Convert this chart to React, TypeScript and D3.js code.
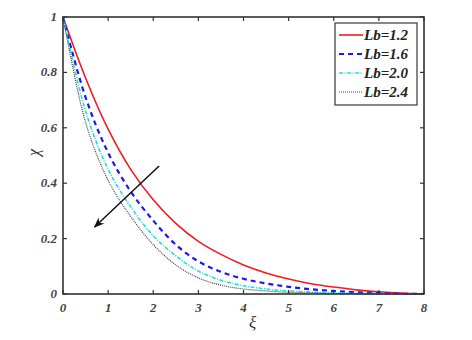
import { useEffect, useRef } from 'react'
import * as d3 from 'd3'

// profiles, xi on [0, 8]
const XI = [0, 0.5, 1, 1.5, 2, 2.5, 3, 3.5, 4, 4.5, 5, 5.5, 6, 6.5, 7, 7.5, 8]
const LB12 = [1, 0.78, 0.595, 0.45, 0.34, 0.255, 0.19, 0.143, 0.105, 0.076, 0.054, 0.037, 0.025, 0.015, 0.008, 0.003, 0]
const LB16 = [1, 0.71, 0.51, 0.37, 0.265, 0.178, 0.118, 0.08, 0.055, 0.038, 0.026, 0.017, 0.011, 0.006, 0.003, 0.001, 0]
const LB20 = [1, 0.66, 0.45, 0.315, 0.21, 0.138, 0.083, 0.05, 0.03, 0.018, 0.011, 0.007, 0.004, 0.002, 0.001, 0, 0]
const LB24 = [1, 0.62, 0.41, 0.28, 0.178, 0.105, 0.058, 0.032, 0.018, 0.011, 0.006, 0.004, 0.002, 0.001, 0, 0, 0]
const X_TICKS = [0, 1, 2, 3, 4, 5, 6, 7, 8]
const Y_TICKS = [0, 0.2, 0.4, 0.6, 0.8, 1]
const Y_TICK_LABELS = ['0', '0.2', '0.4', '0.6', '0.8', '1']
const LABELS = ['Lb=1.2', 'Lb=1.6', 'Lb=2.0', 'Lb=2.4']

const SERIES = [
  { label: LABELS[0], values: LB12, color: '#ee1c25', width: 1.6, dash: null },
  { label: LABELS[1], values: LB16, color: '#1a1aee', width: 2.2, dash: '5,4' },
  { label: LABELS[2], values: LB20, color: '#22dede', width: 1.6, dash: '4,1.5,1,1.5' },
  { label: LABELS[3], values: LB24, color: '#444', width: 1.2, dash: '1,1' },
]

export default function App() {
  const ref = useRef<SVGSVGElement | null>(null)

  useEffect(() => {
    const W = 472, H = 340
    const M = { top: 17, right: 48, bottom: 46, left: 63 }
    const iw = W - M.left - M.right
    const ih = H - M.top - M.bottom
    const svg = d3.select(ref.current)
    svg.selectAll('*').remove()

    const x = d3.scaleLinear().domain([0, 8]).range([0, iw])
    const y = d3.scaleLinear().domain([0, 1]).range([ih, 0])
    const g = svg.append('g').attr('transform', `translate(${M.left},${M.top})`)
    const axisColor = '#333'
    const font = '"Liberation Serif", "Times New Roman", serif'

    // curves
    const line = d3.line<number>()
      .x((d, i) => x(XI[i]))
      .y(d => y(d))
      .curve(d3.curveCatmullRom.alpha(0.5))
    SERIES.forEach(s => {
      const p = g.append('path').datum(s.values)
        .attr('fill', 'none')
        .attr('stroke', s.color)
        .attr('stroke-width', s.width)
        .attr('d', line)
      if (s.dash) p.attr('stroke-dasharray', s.dash)
    })

    // frame + ticks (inward, all four sides)
    g.append('rect').attr('width', iw).attr('height', ih)
      .attr('fill', 'none').attr('stroke', axisColor).attr('stroke-width', 1.6)
    X_TICKS.forEach(t => {
      g.append('line').attr('x1', x(t)).attr('x2', x(t)).attr('y1', ih).attr('y2', ih - 4)
        .attr('stroke', axisColor).attr('stroke-width', 1.2)
      g.append('line').attr('x1', x(t)).attr('x2', x(t)).attr('y1', 0).attr('y2', 4)
        .attr('stroke', axisColor).attr('stroke-width', 1.2)
      g.append('text').attr('x', x(t)).attr('y', ih + 18)
        .attr('text-anchor', 'middle').attr('font-family', font).attr('font-style', 'italic')
        .attr('font-weight', 'bold').attr('font-size', 13).attr('fill', '#444')
        .text(t)
    })
    Y_TICKS.forEach((t, i) => {
      g.append('line').attr('x1', 0).attr('x2', 4).attr('y1', y(t)).attr('y2', y(t))
        .attr('stroke', axisColor).attr('stroke-width', 1.2)
      g.append('line').attr('x1', iw).attr('x2', iw - 4).attr('y1', y(t)).attr('y2', y(t))
        .attr('stroke', axisColor).attr('stroke-width', 1.2)
      g.append('text').attr('x', -6).attr('y', y(t) + 4)
        .attr('text-anchor', 'end').attr('font-family', font).attr('font-style', 'italic')
        .attr('font-weight', 'bold').attr('font-size', 13).attr('fill', '#444')
        .text(Y_TICK_LABELS[i])
    })

    // axis titles
    g.append('text').attr('x', x(4.2)).attr('y', ih + 34)
      .attr('text-anchor', 'middle').attr('font-family', font).attr('font-style', 'italic')
      .attr('font-size', 17).attr('fill', '#333').text('ξ')
    g.append('text')
      .attr('transform', `translate(${-24},${y(0.5) - 3}) rotate(-90)`)
      .attr('text-anchor', 'middle').attr('font-family', font).attr('font-style', 'italic')
      .attr('font-size', 16).attr('fill', '#333').text('χ')

    // arrow (direction of increasing Lb)
    const defs = svg.append('defs')
    defs.append('marker').attr('id', 'ah').attr('viewBox', '0 0 10 10')
      .attr('refX', 9).attr('refY', 5).attr('markerWidth', 7).attr('markerHeight', 7)
      .attr('orient', 'auto')
      .append('path').attr('d', 'M0,1 L10,5 L0,9 L3,5 Z').attr('fill', '#111')
    g.append('line')
      .attr('x1', x(2.13)).attr('y1', y(0.462)).attr('x2', x(0.7)).attr('y2', y(0.242))
      .attr('stroke', '#111').attr('stroke-width', 1.5).attr('marker-end', 'url(#ah)')

    // legend
    const lg = svg.append('g').attr('transform', 'translate(335,23)')
    lg.append('rect').attr('width', 82).attr('height', 82)
      .attr('fill', '#fff').attr('stroke', '#555').attr('stroke-width', 1.4)
    SERIES.forEach((s, i) => {
      const ly = 12 + i * 19
      const l = lg.append('line').attr('x1', 4).attr('x2', 28).attr('y1', ly).attr('y2', ly)
        .attr('stroke', s.color).attr('stroke-width', s.width)
      if (s.dash) l.attr('stroke-dasharray', s.dash)
      lg.append('text').attr('x', 29).attr('y', ly + 5)
        .attr('font-family', font).attr('font-style', 'italic').attr('font-weight', 'bold')
        .attr('font-size', 15).attr('fill', '#222').text(s.label)
    })
  }, [])

  return (
    <svg ref={ref} width={472} height={340}
      style={{ position: 'absolute', left: 0, top: 0, background: '#fff' }} />
  )
}
